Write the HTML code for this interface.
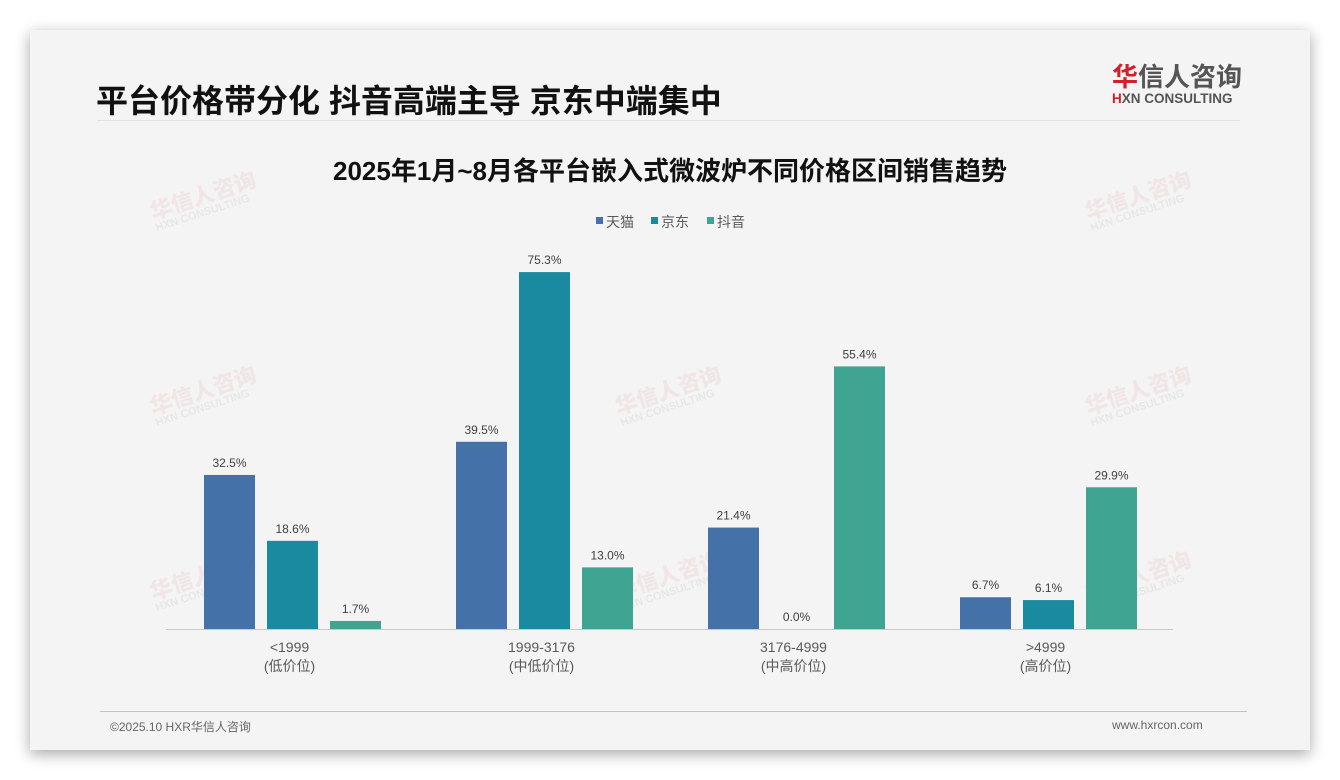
<!DOCTYPE html>
<html><head><meta charset="utf-8"><style>
body{margin:0;width:1340px;height:780px;background:#fff;position:relative;overflow:hidden;font-family:"Liberation Sans","Noto Sans CJK SC",sans-serif}
#slide{position:absolute;left:30px;top:30px;width:1280px;height:720px;background:#f4f4f4;box-shadow:0 4px 14px rgba(0,0,0,.35)}
.abs{position:absolute}
.wm{position:absolute;color:rgba(220,120,120,.11);font-weight:bold;transform:rotate(-18deg);line-height:1}
.wm b{display:block;font-size:22px}.wm i{display:block;font-size:11px;font-style:normal;color:rgba(150,150,150,.13)}
</style></head><body>
<div id="slide"></div>
<div class="abs" style="left:96px;top:76px;font-size:32px;font-weight:bold;color:#111">平台价格带分化 抖音高端主导 京东中端集中</div>
<div class="abs" style="left:97px;top:120px;width:1143px;height:1px;background:#e2e2e2"></div>
<div class="abs" style="left:1112px;top:63px;text-align:left">
<div style="font-size:26px;font-weight:bold;color:#555;line-height:28px"><span style="color:#d0202a">华</span>信人咨询</div>
<div style="font-size:13.5px;font-weight:bold;color:#555;line-height:16px"><span style="color:#d0202a">H</span>XN CONSULTING</div></div>
<div class="abs" style="left:0;width:1340px;top:151px;text-align:center;font-size:26px;font-weight:bold;color:#111">2025年1月~8月各平台嵌入式微波炉不同价格区间销售趋势</div>
<div class="abs" style="left:100px;top:711px;width:1147px;height:1px;background:#b8c6d4"></div>
<div class="abs" style="left:110px;top:718px;font-size:12px;color:#666">©2025.10 HXR华信人咨询</div>
<div class="abs" style="left:1112px;top:718px;font-size:12px;color:#666">www.hxrcon.com</div>
<div class="wm" style="left:150px;top:185px"><b>华信人咨询</b><i>HXN CONSULTING</i></div>
<div class="wm" style="left:1085px;top:185px"><b>华信人咨询</b><i>HXN CONSULTING</i></div>
<div class="wm" style="left:150px;top:380px"><b>华信人咨询</b><i>HXN CONSULTING</i></div>
<div class="wm" style="left:615px;top:380px"><b>华信人咨询</b><i>HXN CONSULTING</i></div>
<div class="wm" style="left:1085px;top:380px"><b>华信人咨询</b><i>HXN CONSULTING</i></div>
<div class="wm" style="left:150px;top:565px"><b>华信人咨询</b><i>HXN CONSULTING</i></div>
<div class="wm" style="left:615px;top:565px"><b>华信人咨询</b><i>HXN CONSULTING</i></div>
<div class="wm" style="left:1085px;top:565px"><b>华信人咨询</b><i>HXN CONSULTING</i></div>
<svg id="chart" class="abs" style="left:0;top:0" width="1340" height="780"></svg>
<script>
const categories=["<1999","1999-3176","3176-4999",">4999"];
const subLabels=["(低价位)","(中低价位)","(中高价位)","(高价位)"];
const seriesNames=["天猫","京东","抖音"];
const tmall=[32.5,39.5,21.4,6.7];
const jd=[18.6,75.3,0.0,6.1];
const douyin=[1.7,13.0,55.4,29.9];
const series=[tmall,jd,douyin];
const colors=["#4472a8","#1a8aa0","#3fa592"];
const NS="http://www.w3.org/2000/svg";
const svg=document.getElementById('chart');
const baseY=629,pxPer=4.74,x0=292.5,groupW=252,barW=51,barStep=63;
const y=v=>baseY-v*pxPer;
const xc=i=>x0+i*groupW;
function mk(t,a){const e=document.createElementNS(NS,t);for(const k in a)e.setAttribute(k,a[k]);svg.appendChild(e);return e;}
const ax=mk('line',{x1:166,x2:1173,y1:baseY+0.5,y2:baseY+0.5,stroke:'#c8c8c8','stroke-width':1});


categories.forEach((c,i)=>{
  series.forEach((s,j)=>{
    const cx=xc(i)+(j-1)*barStep;
    const r=mk('rect',{x:cx-barW/2,y:y(s[i]),width:barW,height:s[i]*pxPer,fill:colors[j]});
    
    
    const t=mk('text',{x:cx,y:y(s[i])-8,'text-anchor':'middle','font-size':12,fill:'#404040'});
    t.textContent=s[i].toFixed(1)+'%';
    
    
  });
  const l1=mk('text',{x:xc(i)-3,y:652,'text-anchor':'middle','font-size':14,fill:'#595959'});
  l1.textContent=c;
  
  
  const l2=mk('text',{x:xc(i)-3,y:671,'text-anchor':'middle','font-size':14,fill:'#595959'});
  l2.textContent=subLabels[i];
  
  
});
const legX=[596,651,707];
seriesNames.forEach((n,j)=>{
  const r=mk('rect',{x:legX[j],y:217,width:7,height:7,fill:colors[j]});
  
  
  const t=mk('text',{x:legX[j]+10,y:227,'font-size':14,fill:'#595959'});
  t.textContent=n;
  
  
});
</script>
</body></html>
